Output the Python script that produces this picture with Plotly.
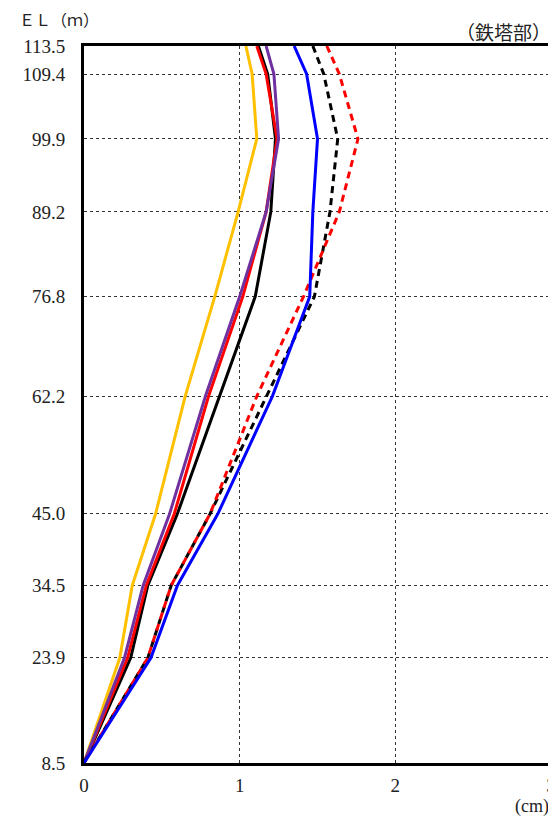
import plotly.graph_objects as go

# Elevation levels (m)
el = [113.5, 109.4, 99.9, 89.2, 76.8, 62.2, 45.0, 34.5, 23.9, 8.5]
el_labels = ["113.5", "109.4", "99.9", "89.2", "76.8", "62.2", "45.0", "34.5", "23.9", "8.5"]

# Displacements (cm) per series
yellow = [1.04, 1.08, 1.11, 0.99, 0.84, 0.65, 0.46, 0.31, 0.23, 0.0]
black_solid = [1.12, 1.18, 1.23, 1.20, 1.10, 0.87, 0.60, 0.41, 0.30, 0.0]
red_solid = [1.11, 1.17, 1.24, 1.17, 1.02, 0.80, 0.58, 0.40, 0.28, 0.0]
purple = [1.17, 1.22, 1.25, 1.17, 1.00, 0.78, 0.55, 0.38, 0.26, 0.0]
black_dash = [1.47, 1.54, 1.63, 1.58, 1.48, 1.17, 0.81, 0.56, 0.41, 0.0]
red_dash = [1.56, 1.64, 1.76, 1.64, 1.41, 1.11, 0.81, 0.56, 0.41, 0.0]
blue = [1.35, 1.43, 1.50, 1.47, 1.45, 1.21, 0.86, 0.60, 0.43, 0.0]

x_ticks = [0, 1, 2, 3]

series = [
    (yellow, "#FFC000", "solid"),
    (black_solid, "#000000", "solid"),
    (red_solid, "#FF0000", "solid"),
    (purple, "#7030A0", "solid"),
    (black_dash, "#000000", "dash"),
    (red_dash, "#FF0000", "dash"),
    (blue, "#0000FF", "solid"),
]

fig = go.Figure()
for vals, color, dash in series:
    fig.add_trace(go.Scatter(
        x=vals, y=el, mode="lines",
        line=dict(color=color, width=3, dash="solid" if dash == "solid" else "7px,5px"),
        showlegend=False, hoverinfo="skip",
    ))

tick_font = dict(family="Liberation Serif", size=19, color="#222222")

fig.update_layout(
    template="none",
    width=548, height=813,
    margin=dict(l=76, r=5, t=38, b=58, autoexpand=False),
    paper_bgcolor="white", plot_bgcolor="white",
    xaxis=dict(
        range=[0, 3], tickvals=x_ticks, ticktext=[str(v) for v in x_ticks],
        showgrid=True, gridcolor="#333333", gridwidth=1, griddash="dot",
        showline=True, linecolor="black", linewidth=3, mirror=True,
        zeroline=False, ticks="outside", ticklen=3, tickcolor="rgba(0,0,0,0)",
        tickfont=tick_font, automargin=False,
    ),
    yaxis=dict(
        range=[8.5, 113.5], tickvals=el, ticktext=el_labels,
        showgrid=True, gridcolor="#333333", gridwidth=1, griddash="dot",
        showline=True, linecolor="black", linewidth=3, mirror=True,
        zeroline=False, ticks="outside", ticklen=12, tickcolor="rgba(0,0,0,0)",
        tickfont=tick_font, automargin=False,
    ),
    annotations=[
        dict(text="ＥＬ（ｍ）", xref="paper", yref="paper", x=0, y=1.0,
             xanchor="left", yanchor="middle", xshift=-67, yshift=27, showarrow=False,
             font=dict(family="Noto Sans CJK JP", size=16, color="#222222")),
        dict(text="（鉄塔部）", xref="paper", yref="paper", x=1.0, y=1.0,
             xanchor="right", yanchor="middle", xshift=2, yshift=15, showarrow=False,
             font=dict(family="Noto Sans CJK JP", size=19, color="#222222")),
        dict(text="(cm)", xref="paper", yref="paper", x=1.0, y=0.0,
             xanchor="right", yanchor="middle", xshift=0, yshift=-43, showarrow=False,
             font=dict(family="Liberation Serif", size=18, color="#222222")),
    ],
)

fig.write_html("out.html")
